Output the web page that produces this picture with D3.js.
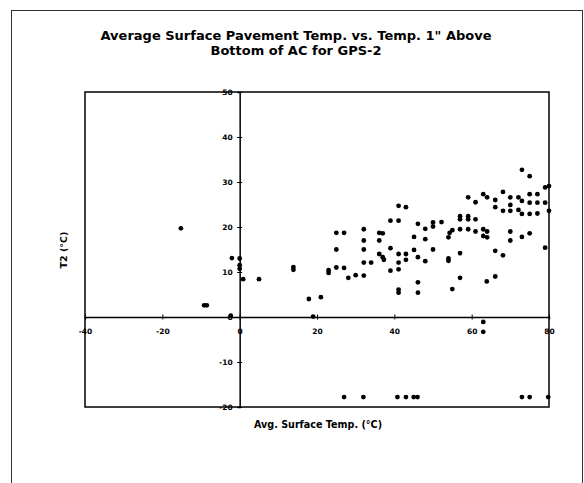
<!DOCTYPE html>
<html>
<head>
<meta charset="utf-8">
<script src="https://cdn.jsdelivr.net/npm/d3@7"></script>
<style>
  html, body { margin: 0; padding: 0; background: #fff; }
  svg { display: block; }
</style>
</head>
<body>
<svg id="chart" width="584" height="483"></svg>
<script>
// ---- data ----
const titleLines = ["Average Surface Pavement Temp. vs. Temp. 1\" Above", "Bottom of AC for GPS-2"];
const xLabel = "Avg. Surface Temp. (°C)";
const yLabel = "T2 (°C)";
const xTicks = [-40, -20, 0, 20, 40, 60, 80];
const yTicks = [-20, -10, 0, 10, 20, 30, 40, 50];

// Avg. surface temperature (x) and T2 (y) pairs, °C
const surfaceTemp = [
  -15.2, -9.2, -8.5, -2.3, -2.0,
  0, 0, 0, 0.9,
  5.0, 13.9, 13.9, 17.9, 21.0, 19.0,
  23.0, 23.0,
  25.0, 27.0, 25.0, 25.0, 27.0,
  28.1, 30.0, 32.1,
  32.1, 32.1, 32.1, 32.1, 34.0,
  36.1, 37.0, 36.1, 36.1, 37.0, 37.3,
  39.0, 39.0, 39.0, 41.1, 41.1, 43.0,
  41.1, 41.1, 41.1, 41.1, 41.1,
  43.0, 43.0,
  45.1, 45.1,
  46.1, 46.1, 46.1, 46.1,
  48.0, 48.0, 48.0,
  50.0, 50.0, 50.0,
  52.2,
  54.0, 54.3, 55.0, 54.0, 54.0, 55.0,
  57.0, 57.0, 57.0, 57.0, 57.0,
  59.1, 59.1, 59.1, 59.1,
  61.0, 61.0, 61.0,
  63.0, 63.0, 63.0, 64.0, 64.0, 64.0, 63.9,
  63.0, 63.0,
  66.1, 66.1, 66.1, 66.1,
  68.1, 68.1, 68.1,
  70.0, 70.0, 70.0, 70.0, 70.0,
  72.1, 73.0, 72.1, 73.0, 73.0, 73.0,
  75.0, 75.0, 75.0, 75.0, 75.0,
  77.0, 77.0, 77.0,
  79.0, 79.0, 79.0, 80.0, 80.0,
  27.0, 32.0, 40.8, 43.0, 45.0, 46.0, 73.0, 75.0, 79.8
];
const t2Temp = [
  19.7, 2.6, 2.6, 0.3, 13.1,
  13.0, 11.5, 10.7, 8.4,
  8.4, 10.5, 11.1, 4.0, 4.4, 0.1,
  9.8, 10.4,
  18.7, 18.7, 15.0, 11.0, 10.9,
  8.7, 9.3, 9.2,
  19.5, 17.0, 15.0, 12.1, 12.1,
  18.7, 18.6, 17.0, 14.0, 13.3, 12.7,
  15.3, 10.3, 21.4, 21.4, 24.7, 24.4,
  14.0, 12.1, 10.6, 6.1, 5.4,
  14.0, 12.7,
  17.8, 14.9,
  20.7, 13.3, 7.7, 5.4,
  19.6, 17.3, 12.4,
  21.0, 20.1, 15.0,
  21.1,
  17.7, 18.7, 19.3, 13.0, 12.5, 6.2,
  22.4, 21.7, 19.5, 14.2, 8.7,
  26.6, 22.4, 21.7, 19.5,
  25.5, 21.7, 19.0,
  27.3, 19.5, 18.0, 26.6, 19.0, 17.7, 7.9,
  -1.1, -3.3,
  26.0, 24.4, 14.7, 9.0,
  27.8, 23.6, 13.7,
  26.6, 24.9, 23.6, 19.0, 17.0,
  26.6, 25.8, 23.8, 22.9, 17.8, 32.7,
  31.3, 27.3, 25.4, 22.9, 18.6,
  27.3, 25.4, 23.0,
  28.8, 25.4, 15.4, 29.1, 23.6,
  -17.8, -17.8, -17.8, -17.8, -17.8, -17.8, -17.8, -17.8, -17.8
];

// ---- drawing ----
const svg = d3.select("#chart");
const font = "'DejaVu Sans', 'Liberation Sans', Arial, sans-serif";

// outer frame
svg.append("rect")
  .attr("x", 11.5).attr("y", 10.5).attr("width", 571).attr("height", 480)
  .attr("fill", "none").attr("stroke", "#333").attr("stroke-width", 1);

const x = d3.scaleLinear().domain([-40, 80]).range([85, 549]);
const y = d3.scaleLinear().domain([-20, 50]).range([407, 92]);

// title
svg.append("g").selectAll("text").data(titleLines).join("text")
  .attr("x", 296).attr("y", (d, i) => 40 + i * 14.5)
  .attr("text-anchor", "middle")
  .attr("font-family", font).attr("font-weight", "bold")
  .attr("font-size", 13)
  .attr("fill", "#000")
  .text(d => d);

// plot box
svg.append("rect")
  .attr("x", x(-40)).attr("y", y(50))
  .attr("width", x(80) - x(-40)).attr("height", y(-20) - y(50))
  .attr("fill", "none").attr("stroke", "#000").attr("stroke-width", 1.5);

// x axis at y = 0
const gx = svg.append("g")
  .attr("transform", `translate(0,${y(0)})`)
  .call(d3.axisBottom(x).tickValues(xTicks).tickSizeOuter(0).tickSize(2).tickPadding(10)
    .tickFormat(d3.format("d")));
gx.select(".domain").attr("stroke", "#000").attr("stroke-width", 1.5);
gx.selectAll(".tick line").attr("y1", -2.5).attr("y2", 2.5).attr("stroke", "#000");
gx.selectAll(".tick text")
  .attr("font-family", font).attr("font-weight", "bold").attr("font-size", 7.5).attr("fill", "#000");

// y axis at x = 0
const gy = svg.append("g")
  .attr("transform", `translate(${x(0)},0)`)
  .call(d3.axisLeft(y).tickValues(yTicks).tickSizeOuter(0).tickSize(2).tickPadding(5)
    .tickFormat(d3.format("d")));
gy.select(".domain").attr("stroke", "#000").attr("stroke-width", 1.5);
gy.selectAll(".tick line").attr("x1", -2.5).attr("x2", 2.5).attr("stroke", "#000");
gy.selectAll(".tick text")
  .attr("font-family", font).attr("font-weight", "bold").attr("font-size", 7.5).attr("fill", "#000");
gy.selectAll(".tick text").text(d => d < 0 ? "-" + Math.abs(d) : d);
gx.selectAll(".tick text").text(d => d < 0 ? "-" + Math.abs(d) : d);

// points
const pts = surfaceTemp.map((v, i) => ({ x: v, y: t2Temp[i] }));
svg.append("g").selectAll("circle").data(pts).join("circle")
  .attr("cx", d => x(d.x)).attr("cy", d => y(d.y))
  .attr("r", 2.4).attr("fill", "#000");

// axis titles
svg.append("text")
  .attr("x", 318).attr("y", 428)
  .attr("text-anchor", "middle")
  .attr("font-family", font).attr("font-weight", "bold").attr("font-size", 9.6)
  .attr("fill", "#000")
  .text(xLabel);

svg.append("text")
  .attr("transform", "translate(67,250) rotate(-90)")
  .attr("text-anchor", "middle")
  .attr("font-family", font).attr("font-weight", "bold").attr("font-size", 9.5)
  .attr("fill", "#000")
  .text(yLabel);
</script>
</body>
</html>
